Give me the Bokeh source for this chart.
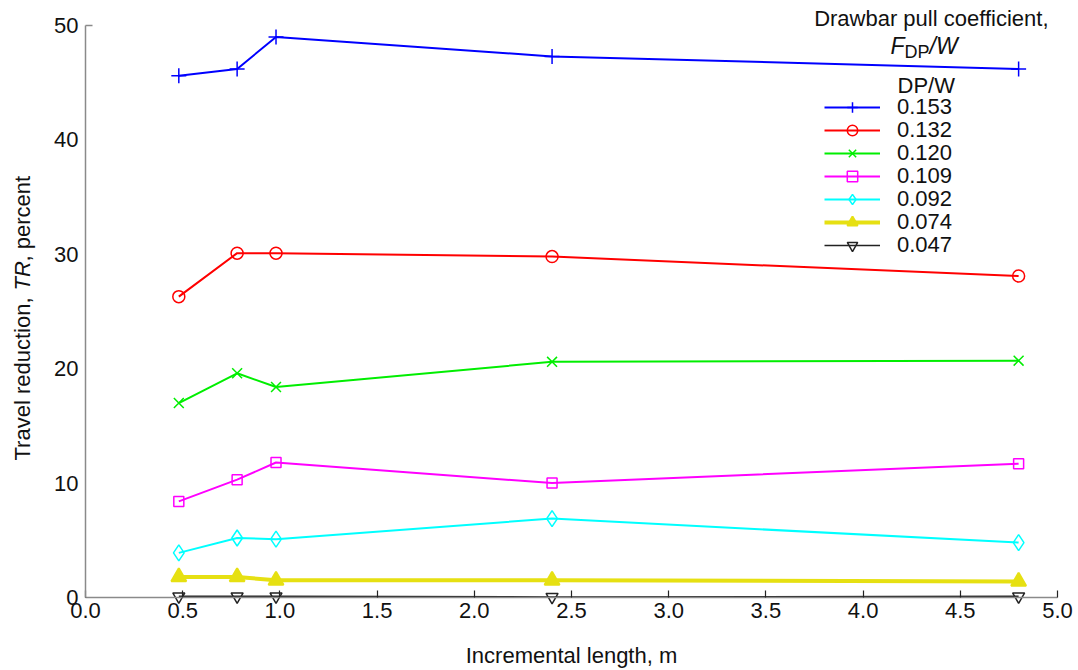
import math
from bokeh.plotting import figure
from bokeh.models import Legend, LegendItem, Label, Range1d, FixedTicker, LinearAxis
from bokeh.embed import file_html
from bokeh.resources import INLINE

# ---- data ----
incremental_length = [0.48, 0.78, 0.98, 2.40, 4.80]
dpw_labels = ["0.153", "0.132", "0.120", "0.109", "0.092", "0.074", "0.047"]
tr_0153 = [45.6, 46.2, 49.0, 47.3, 46.2]
tr_0132 = [26.3, 30.1, 30.1, 29.8, 28.1]
tr_0120 = [17.0, 19.6, 18.4, 20.6, 20.7]
tr_0109 = [8.4, 10.3, 11.8, 10.0, 11.7]
tr_0092 = [3.9, 5.2, 5.1, 6.9, 4.8]
tr_0074 = [1.8, 1.8, 1.5, 1.5, 1.4]
tr_0047 = [0.1, 0.1, 0.1, 0.05, 0.1]
x_ticks = [0.0, 0.5, 1.0, 1.5, 2.0, 2.5, 3.0, 3.5, 4.0, 4.5, 5.0]
y_ticks = [0, 10, 20, 30, 40, 50]

FONT = "Liberation Sans"
W, H = 1076, 668
X0PX, PXX = 85.0, 194.4      # pixel of x=0, pixels per unit
Y0PX, PXY = 597.0, 11.44     # pixel of y=0, pixels per unit

p = figure(width=W, height=H, output_backend="svg", toolbar_location=None,
           x_range=Range1d(-X0PX / PXX, (W - X0PX) / PXX),
           y_range=Range1d((Y0PX - H) / PXY, Y0PX / PXY),
           min_border_left=0, min_border_right=0, min_border_top=0, min_border_bottom=0)
p.outline_line_color = None
p.grid.grid_line_color = None
p.background_fill_color = "white"

xa, ya = p.xaxis[0], p.yaxis[0]
xa.fixed_location = 0
ya.fixed_location = 0
xa.bounds = (0, 5)
ya.bounds = (0, 50)
xa.ticker = FixedTicker(ticks=x_ticks)
ya.ticker = FixedTicker(ticks=y_ticks)
xa.major_label_overrides = {t: f"{t:.1f}" for t in x_ticks}
for ax in (xa, ya):
    ax.axis_line_color = "#8a8a8a"
    ax.axis_line_width = 1.5
    ax.minor_tick_line_color = None
    ax.major_label_text_font = FONT
    ax.major_label_text_font_size = "22px"
    ax.major_label_text_color = "#111111"
xa.major_tick_in = 7
xa.major_tick_out = 0
xa.major_tick_line_color = "#222222"
xa.major_tick_line_width = 1.2
xa.major_label_standoff = 5
ya.major_tick_in = 0
ya.major_tick_out = 0
ya.major_tick_line_color = None
ya.major_label_standoff = 7

# frame corner tick at the top of the y axis
corner = LinearAxis(fixed_location=0, ticker=FixedTicker(ticks=[50]),
                    major_label_overrides={50: ""}, axis_line_color=None,
                    major_tick_in=7, major_tick_out=0, major_tick_line_color="#8a8a8a",
                    major_tick_line_width=1.5, minor_tick_line_color=None)
p.add_layout(corner, "left")

series = [
    (tr_0153, "#0000ff", "cross", 15, 2, None),
    (tr_0132, "#ff0000", "circle", 12, 2, None),
    (tr_0120, "#00ee00", "x", 14, 2, None),
    (tr_0109, "#ff00ff", "square", 10, 2, None),
    (tr_0092, "#00ffff", "diamond", 16, 2, None),
    (tr_0074, "#e6e012", "triangle", 15, 4, "#e6e012"),
    (tr_0047, "#222222", "inverted_triangle", 12, 1.5, None),
]

ROW0, ROWH = 107, 23.0   # legend row centre (px from top) and row pitch
for i, ((ys, color, marker, size, lw, fill), lab_txt) in enumerate(zip(series, dpw_labels)):
    r1 = p.line(incremental_length, ys, line_color=color, line_width=lw)
    r2 = p.scatter(incremental_length, ys, marker=marker, size=size,
                   line_color=color, line_width=1.5 if marker != "triangle" else 2,
                   fill_color=fill if fill else "white", fill_alpha=1 if fill else 0)
    centre = ROW0 + ROWH * i
    leg = Legend(items=[LegendItem(label=lab_txt, renderers=[r1, r2])],
                 location=(824, H - (centre + 13)), orientation="vertical",
                 label_text_font=FONT, label_text_font_size="22px", label_text_color="#111111",
                 label_height=26, glyph_height=26, glyph_width=56, spacing=0,
                 label_standoff=17, padding=0, margin=0,
                 border_line_alpha=0, background_fill_alpha=0)
    p.add_layout(leg)

def lab(text, x, y, size="22px", style="normal", align="left", baseline="middle", angle=0):
    p.add_layout(Label(text=text, x=x, y=y, x_units="screen", y_units="screen",
                       text_font=FONT, text_font_size=size, text_font_style=style,
                       text_align=align, text_baseline=baseline, angle=angle,
                       text_color="#111111"))

# legend title
lab("DP/W", 897, 583)
# annotation
lab("Drawbar pull coefficient,", 1048, 650, baseline="alphabetic", align="right")
lab("F", 890, 623, size="23px", style="italic", baseline="alphabetic")
lab("DP", 904, 617, size="18px", baseline="alphabetic")
lab("/W", 929, 623, size="23px", style="italic", baseline="alphabetic")
# axis titles
lab("Incremental length, m", 571, 13, align="center")
lab("Travel reduction,", 22, 208, angle=math.pi / 2)
lab("TR", 22, 378, style="italic", angle=math.pi / 2)
lab(", percent", 22, 407, angle=math.pi / 2)

open("out.html", "w").write(file_html(p, INLINE))
